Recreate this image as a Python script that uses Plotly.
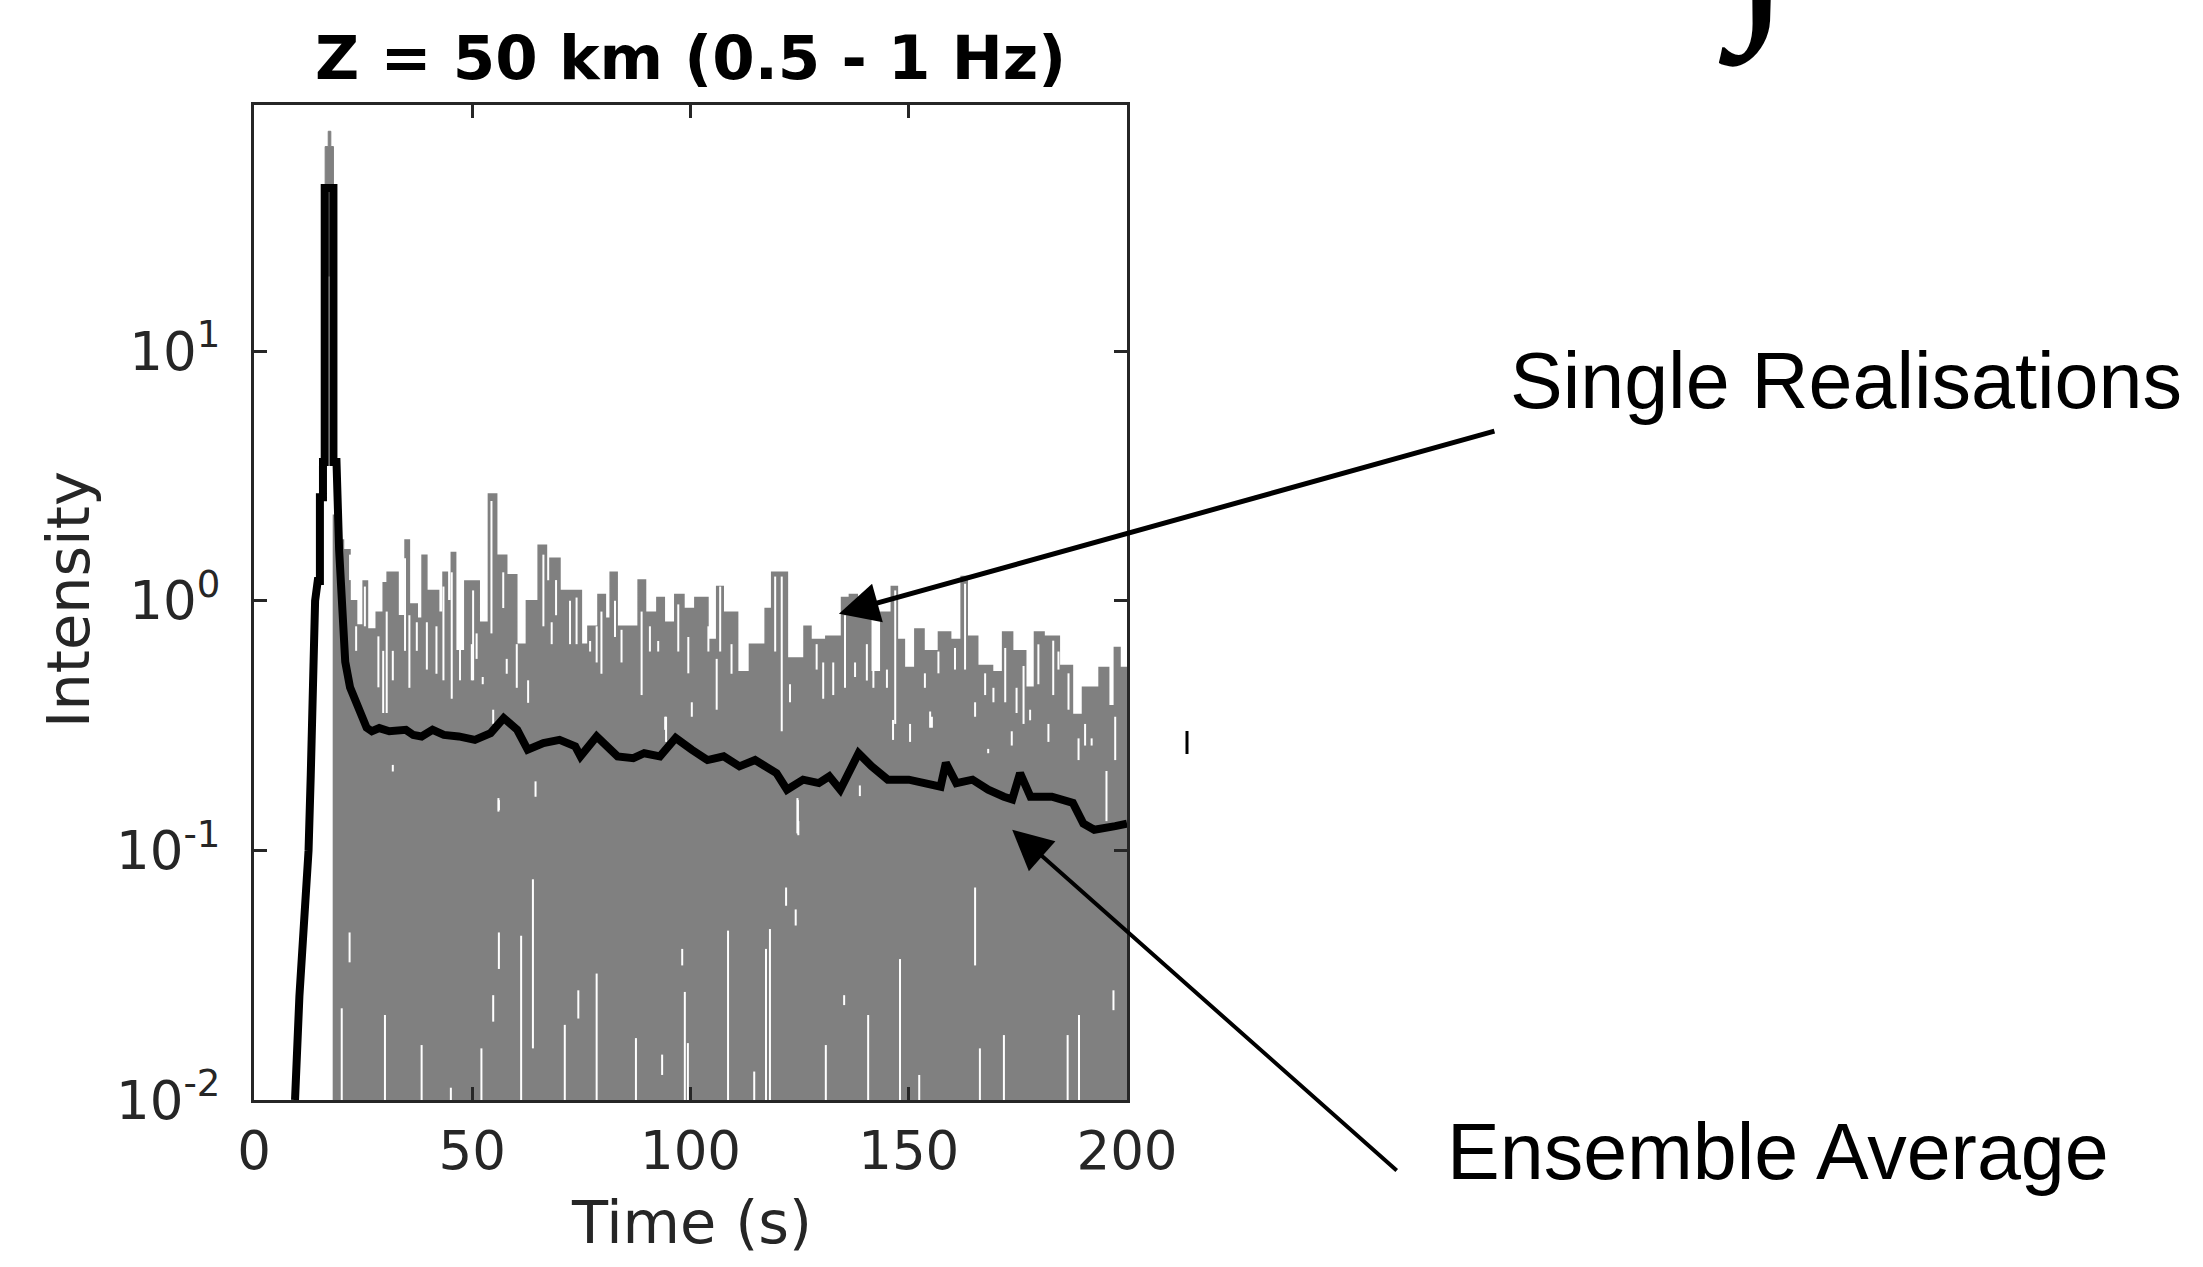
import math
import plotly.graph_objects as go

# ---------------- data ----------------
X_MAX = 200.0
Y_MIN = 0.01

# Upper envelope of the single realisations (step start time [s], intensity)
real_t = [18.2, 19.7, 20.5, 22.0, 23.5, 25.0, 26.0, 28.0, 29.6, 30.5, 33.0, 34.6, 35.6, 37.4,
          38.5, 39.6, 42.3, 43.3, 44.3, 45.2, 46.2, 48.3, 51.6, 53.7, 55.6, 57.9, 60.2, 62.4,
          65.1, 67.0, 67.8, 70.1, 75.0, 76.5, 78.8, 80.5, 81.6, 83.2, 88.0, 89.7, 92.3, 94.0,
          96.4, 98.5, 101.0, 104.0, 106.0, 107.5, 110.8, 113.5, 117.1, 118.6, 122.2, 126.0,
          127.6, 131.0, 134.6, 136.4, 138.2, 141.3, 143.6, 146.0, 147.4, 149.0, 151.4, 153.5,
          156.8, 159.6, 162.0, 163.4, 165.8, 169.2, 171.5, 173.8, 176.8, 178.8, 181.0, 184.5,
          187.5, 189.8, 193.6, 195.8, 197.1, 198.4]
real_max = [2.2, 1.75, 1.6, 1.0, 0.8, 1.2, 0.77, 0.9, 1.18, 1.3, 0.87, 1.75, 0.97, 0.85,
            1.52, 1.1, 0.9, 1.3, 1.0, 1.56, 0.63, 1.2, 0.82, 2.68, 1.52, 1.27, 0.67, 1.0,
            1.67, 1.2, 1.48, 1.1, 0.67, 0.79, 1.06, 0.85, 1.3, 0.79, 1.21, 0.9, 1.03, 0.82,
            1.06, 0.93, 1.03, 0.7, 1.14, 0.9, 0.52, 0.67, 0.93, 1.3, 0.59, 0.79,
            0.7, 0.72, 1.03, 1.06, 0.87, 0.52, 0.9, 1.14, 0.7, 0.54, 0.77, 0.63,
            0.75, 0.7, 1.25, 0.72, 0.55, 0.52, 0.75, 0.63, 0.45, 0.75, 0.72, 0.55,
            0.35, 0.45, 0.54, 0.38, 0.65, 0.54]

# Direct-arrival spike of the single realisations (step start times, heights)
spike_t = [16.3, 17.0, 17.6, 18.2]
spike_max = [66, 76, 66]
spike_base = 20

# White gaps between the realisations (time, top, bottom)
gap_t = [22.0, 23.4, 25.4, 28.5, 29.6, 30.4, 31.8, 34.6, 35.6, 37.3, 39.6, 41.8, 43.4, 45.3,
         47.2, 49.9, 50.2, 51.0, 52.4, 54.4, 54.8, 57.1, 57.9, 60.2, 62.8, 66.3, 68.2, 69.2,
         72.4, 73.9, 77.0, 78.5, 79.6, 82.7, 84.2, 88.8, 90.7, 92.6, 94.4, 97.2, 99.5, 100.3,
         104.1, 106.0, 106.8, 109.4, 119.4, 120.9, 122.8, 124.7, 128.9, 130.4, 132.7, 135.4,
         137.7, 138.8, 140.4, 141.9, 145.0, 146.9, 150.3, 153.7, 155.3, 156.8, 160.6, 162.9,
         165.2, 167.5, 169.4, 172.1, 173.6, 174.7, 176.3, 177.8, 179.7, 182.0, 183.1, 184.3,
         186.6, 188.9, 190.4, 191.9, 195.3, 197.3,
         31.8, 56.0, 64.5, 94.2, 124.5, 146.4, 154.9, 168.2,
         20.1, 21.9, 30.0, 38.4, 45.1, 52.1, 54.8, 56.1, 56.1, 61.2, 63.9, 71.2, 74.3, 78.5,
         87.5, 93.5, 98.1, 98.7, 99.4, 108.6, 114.6, 117.3, 118.2, 121.9, 124.1, 124.6, 131.0,
         135.2, 140.7, 148.0, 152.4, 165.2, 166.3, 171.8, 186.4, 189.0, 196.9]
gap_top = [1.53, 0.79, 1.14, 0.72, 0.63, 0.905, 0.63, 1.48, 0.875, 0.82, 0.82, 0.79, 1.14, 1.30,
           0.67, 0.67, 1.10, 0.74, 0.495, 2.51, 0.366, 1.30, 0.585, 0.67, 0.48, 1.53, 0.82, 1.21,
           1.0, 1.03, 0.69, 0.79, 0.905, 1.0, 0.765, 0.905, 0.79, 0.69, 0.343, 0.967, 0.716, 0.392,
           0.79, 0.585, 1.14, 0.67, 1.25, 1.25, 0.463, 0.131, 0.67, 0.566, 0.566, 0.875,
           0.566, 0.182, 0.67, 0.566, 0.53, 1.10, 0.321, 0.512, 0.343, 0.626, 0.647, 1.17,
           0.392, 0.512, 0.448, 0.647, 0.30, 0.448, 0.548, 0.366, 0.669, 0.321, 0.692, 0.626,
           0.512, 0.281, 0.321, 0.281, 0.208, 0.343,
           0.22, 0.162, 0.189, 0.343, 0.162, 0.333, 0.36, 0.255,
           0.0233, 0.0469, 0.0219, 0.0166, 0.0112, 0.0161, 0.0263, 0.0469, 0.159, 0.0455, 0.0766,
           0.0200, 0.0275, 0.0321, 0.0177, 0.0152, 0.0403, 0.0271, 0.0169, 0.0477, 0.0130, 0.0403,
           0.0484, 0.0710, 0.058, 0.159, 0.0166, 0.0263, 0.0219, 0.0367, 0.0126, 0.0710, 0.0161,
           0.0182, 0.0182, 0.0219, 0.0275]
gap_bot = [1.21, 0.63, 0.79, 0.45, 0.355, 0.355, 0.48, 0.63, 0.448, 0.63, 0.53, 0.51, 0.48, 0.405,
           0.48, 0.48, 0.48, 0.585, 0.463, 0.74, 0.321, 0.935, 0.51, 0.448, 0.39, 0.79, 0.67, 0.875,
           0.67, 0.67, 0.626, 0.566, 0.51, 0.716, 0.566, 0.419, 0.626, 0.626, 0.272, 0.626, 0.512, 0.343,
           0.626, 0.366, 0.626, 0.51, 0.626, 0.30, 0.392, 0.115, 0.53, 0.405, 0.419, 0.448,
           0.495, 0.165, 0.479, 0.448, 0.448, 0.321, 0.272, 0.448, 0.31, 0.512, 0.53, 0.53,
           0.343, 0.419, 0.392, 0.392, 0.263, 0.355, 0.321, 0.332, 0.463, 0.272, 0.419, 0.53,
           0.366, 0.230, 0.263, 0.263, 0.131, 0.230,
           0.207, 0.143, 0.164, 0.304, 0.117, 0.277, 0.31, 0.245,
           0.0099, 0.0356, 0.0099, 0.0099, 0.0099, 0.0099, 0.0206, 0.0335, 0.145, 0.0099, 0.0161,
           0.0099, 0.0212, 0.0099, 0.0099, 0.0126, 0.0346, 0.0099, 0.0099, 0.0099, 0.0099, 0.0099,
           0.0099, 0.060, 0.050, 0.117, 0.0099, 0.0240, 0.0099, 0.0099, 0.0099, 0.0346, 0.0099,
           0.0099, 0.0099, 0.0099, 0.0229]

# Ensemble average
ens_t = [9.0, 9.4, 10.4, 11.5, 12.2, 12.5, 13.0, 13.5, 14.0, 14.6, 15.1, 15.1, 15.8, 15.8,
         16.2, 16.2, 18.2, 18.2, 18.9, 19.5, 20.2, 20.9, 22.0, 23.2, 24.3, 25.8, 27.0, 28.7,
         31.0, 34.8, 36.5, 38.4, 40.9, 43.5, 46.9, 50.6, 54.2, 57.2, 60.3, 62.7, 66.3, 70.0,
         73.6, 74.8, 78.5, 80.9, 83.3, 86.9, 89.4, 93.0, 95.4, 96.6, 100.3, 103.9, 107.6, 111.2,
         114.8, 119.7, 122.1, 125.8, 129.4, 131.8, 134.3, 136.7, 138.5, 141.5, 145.2, 150.0,
         154.9, 157.3, 158.5, 160.9, 164.6, 168.2, 171.8, 173.7, 175.5, 177.9, 182.8, 187.6,
         190.0, 192.5, 197.3, 200.0]
ens_val = [0.008, 0.01, 0.026, 0.05, 0.075, 0.1, 0.2, 0.44, 1.0, 1.2, 1.2, 2.6, 2.6, 3.6,
           3.6, 45, 45, 3.6, 3.6, 1.6, 1.0, 0.57, 0.45, 0.40, 0.37, 0.31, 0.30, 0.309,
           0.30, 0.304, 0.29, 0.286, 0.304, 0.29, 0.286, 0.277, 0.295, 0.339, 0.304, 0.253, 0.269, 0.277,
           0.261, 0.238, 0.286, 0.261, 0.238, 0.234, 0.245, 0.238, 0.269, 0.282, 0.253, 0.230, 0.238, 0.217,
           0.230, 0.204, 0.175, 0.192, 0.186, 0.198, 0.175, 0.217, 0.245, 0.217, 0.192, 0.192,
           0.186, 0.180, 0.224, 0.186, 0.192, 0.175, 0.164, 0.160, 0.204, 0.164, 0.164, 0.155,
           0.128, 0.121, 0.125, 0.128]

x_tickvals = [0, 50, 100, 150, 200]
y_tickvals = [0.01, 0.1, 1, 10]
y_ticktext = ["10<sup>-2</sup>", "10<sup>-1</sup>", "10<sup>0</sup>", "10<sup>1</sup>"]

title_text = "<b>Z = 50 km (0.5 - 1 Hz)</b>"
x_label = "Time (s)"
y_label = "Intensity"


# ---------------- build geometry from the data ----------------
def step_polygon(ts, vs, t_end, base):
    xs, ys = [ts[0]], [base]
    for i, v in enumerate(vs):
        t0 = ts[i]
        t1 = ts[i + 1] if i + 1 < len(ts) else t_end
        xs += [t0, t1]
        ys += [v, v]
    xs.append(xs[-1])
    ys.append(base)
    xs.append(ts[0])
    ys.append(base)
    return xs, ys


env_x, env_y = step_polygon(real_t, real_max, X_MAX, Y_MIN * 0.9)
spk_x, spk_y = step_polygon(spike_t[:-1], spike_max, spike_t[-1], spike_base)

gx, gy = [], []
for t, top, bot in zip(gap_t, gap_top, gap_bot):
    gx += [t, t, None]
    gy += [bot, top, None]

GRAY = "#808080"
AX = "#262626"

fig = go.Figure()
fig.add_trace(go.Scatter(x=env_x, y=env_y, mode="lines", fill="toself", fillcolor=GRAY,
                         line=dict(color=GRAY, width=1.5), hoverinfo="skip"))
fig.add_trace(go.Scatter(x=gx, y=gy, mode="lines", line=dict(color="white", width=2),
                         hoverinfo="skip"))
fig.add_trace(go.Scatter(x=spk_x, y=spk_y, mode="lines", fill="toself", fillcolor=GRAY,
                         line=dict(color=GRAY, width=1), hoverinfo="skip"))
fig.add_trace(go.Scatter(x=ens_t, y=ens_val, mode="lines",
                         line=dict(color="black", width=8), hoverinfo="skip"))

W, H = 2203, 1267
L, R, T, B = 254, 1076, 105, 167
PW, PH = W - L - R, H - T - B


def px(xp):
    return (xp - L) / PW


def py(yp):
    return (H - B - yp) / PH


tick_font = dict(family="DejaVu Sans", size=53, color=AX)
fig.update_xaxes(range=[0, X_MAX], tickvals=x_tickvals, ticks="inside", ticklen=13, tickwidth=3,
                 tickcolor=AX, showline=True, linewidth=3, linecolor=AX, mirror="ticks",
                 showgrid=False, zeroline=False, tickfont=tick_font, ticklabelstandoff=2)
fig.update_yaxes(type="log", range=[-2, 1.986], tickvals=y_tickvals, ticktext=y_ticktext,
                 ticks="inside", ticklen=13, tickwidth=3, tickcolor=AX, showline=True,
                 linewidth=3, linecolor=AX, mirror="ticks", showgrid=False, zeroline=False,
                 tickfont=tick_font, ticklabelstandoff=20)

ann = []
ann.append(dict(text=title_text, x=px(690), y=py(57), xref="paper", yref="paper",
                showarrow=False, xanchor="center", yanchor="middle",
                font=dict(family="DejaVu Sans", size=61, color="black")))
ann.append(dict(text=x_label, x=px(691), y=py(1222), xref="paper", yref="paper",
                showarrow=False, xanchor="center", yanchor="middle",
                font=dict(family="DejaVu Sans", size=59, color=AX)))
ann.append(dict(text=y_label, x=px(68), y=py(600), xref="paper", yref="paper",
                showarrow=False, xanchor="center", yanchor="middle", textangle=-90,
                font=dict(family="DejaVu Sans", size=59, color=AX)))
ann.append(dict(text="Single Realisations", x=px(1508), y=py(380), xref="paper", yref="paper",
                showarrow=False, xanchor="left", yanchor="middle",
                font=dict(family="Liberation Sans", size=79, color="black")))
ann.append(dict(text="Ensemble Average", x=px(1445), y=py(1151), xref="paper", yref="paper",
                showarrow=False, xanchor="left", yanchor="middle",
                font=dict(family="Liberation Sans", size=79, color="black")))
# arrows (head in data coordinates, tail as pixel offset)
ann.append(dict(text="", x=134.0, y=math.log10(0.887), xref="x", yref="y", showarrow=True,
                ax=657, ay=-183, arrowhead=2, arrowsize=1.6, arrowwidth=5, arrowcolor="black"))
ann.append(dict(text="", x=173.7, y=math.log10(0.121), xref="x", yref="y", showarrow=True,
                ax=386, ay=342, arrowhead=2, arrowsize=2.0, arrowwidth=4, arrowcolor="black"))
# cropped glyph at the top (part of a neighbouring equation)
ann.append(dict(text="\u222b", x=px(1762), y=py(69), xref="paper", yref="paper",
                showarrow=False, xanchor="center", yanchor="bottom",
                font=dict(family="Liberation Serif", size=230, color="black")))

fig.update_layout(width=W, height=H, margin=dict(l=L, r=R, t=T, b=B, autoexpand=False),
                  paper_bgcolor="white", plot_bgcolor="white", showlegend=False,
                  annotations=ann,
                  shapes=[dict(type="line", xref="paper", yref="paper", x0=px(1187), x1=px(1187),
                               y0=py(754), y1=py(731), line=dict(color="black", width=3))])

fig.write_html("out.html")
